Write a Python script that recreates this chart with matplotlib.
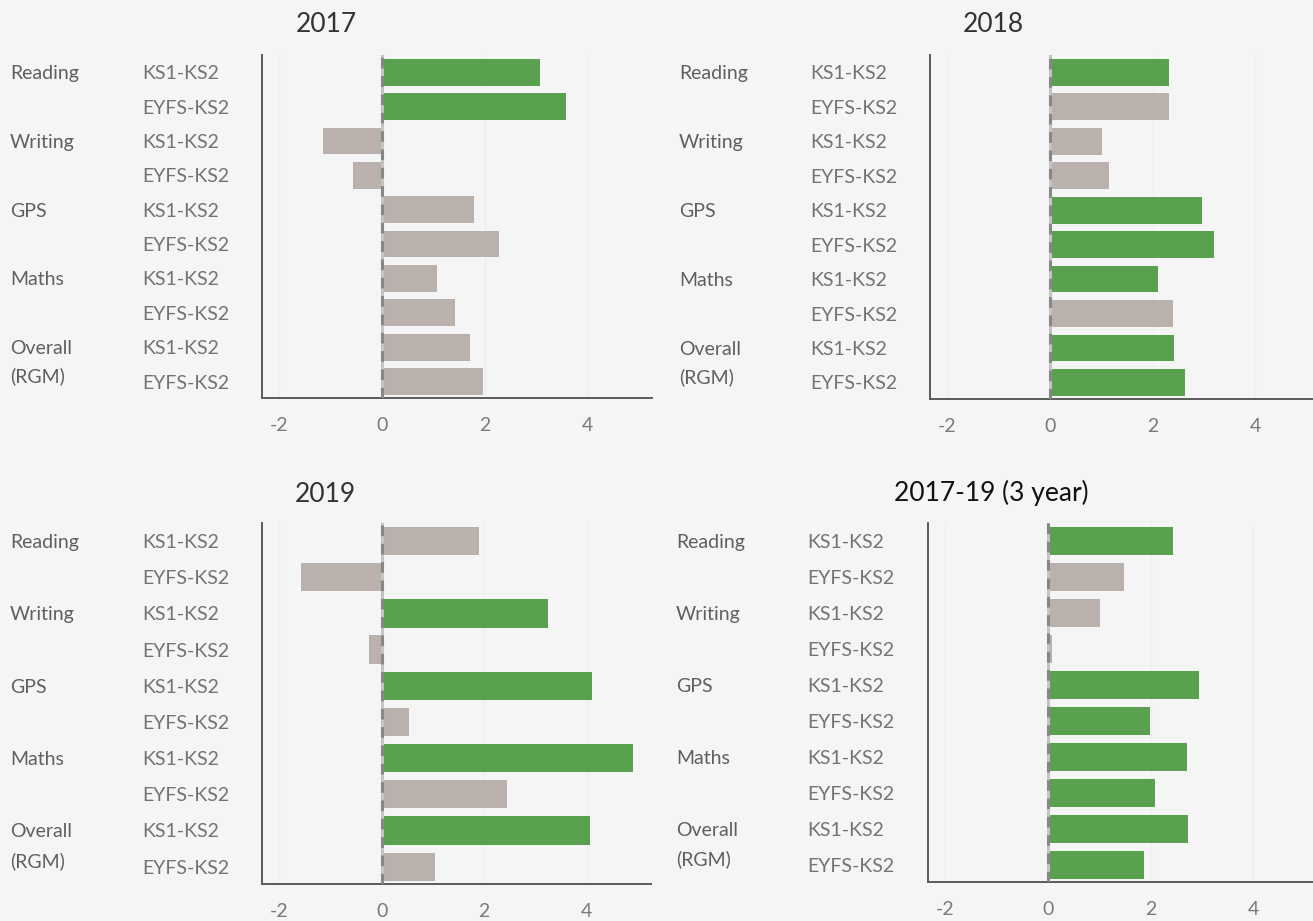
import matplotlib
matplotlib.use("Agg")
import matplotlib.pyplot as plt
from matplotlib.transforms import blended_transform_factory

# subjects and measures (rows top to bottom)
groups = ["Reading", "Writing", "GPS", "Maths", "Overall"]
measures = ["KS1-KS2", "EYFS-KS2"]

titles = ["2017", "2018", "2019", "2017-19 (3 year)"]

# progress scores, one per row (KS1-KS2 then EYFS-KS2 for each subject)
values_2017 = [3.08, 3.59, -1.15, -0.57, 1.79, 2.28, 1.07, 1.42, 1.72, 1.97]
values_2018 = [2.32, 2.32, 1.02, 1.15, 2.97, 3.20, 2.11, 2.40, 2.42, 2.62]
values_2019 = [1.90, -1.57, 3.24, -0.25, 4.10, 0.53, 4.90, 2.45, 4.06, 1.04]
values_3yr = [2.43, 1.48, 1.01, 0.08, 2.95, 1.98, 2.70, 2.08, 2.72, 1.86]

# 1 = significantly above national (green), 0 = not significant (grey)
sig_2017 = [1, 1, 0, 0, 0, 0, 0, 0, 0, 0]
sig_2018 = [1, 0, 0, 0, 1, 1, 1, 0, 1, 1]
sig_2019 = [0, 0, 1, 0, 1, 0, 1, 0, 1, 0]
sig_3yr = [1, 0, 0, 0, 1, 1, 1, 1, 1, 1]

xticks = [-2, 0, 2, 4]

GREEN = "#59a14f"
GREY = "#bab0ac"
BG = "#f5f5f5"

plt.rcParams["font.family"] = ["Lato", "DejaVu Sans"]

W, H = 1313, 921
fig = plt.figure(figsize=(W / 100, H / 100), dpi=100, facecolor=BG)

# axes boxes in pixels: left, top, right, bottom
boxes = [(262, 55, 652, 398), (930, 55, 1320, 399),
         (262, 523, 651, 884), (928, 523, 1318, 882)]
label_x = [(10, 142), (679, 810), (10, 142), (676, 807)]
title_pos = [(326, 24), (993, 25), (325, 494), (991, 493)]
title_col = ["#333333", "#333333", "#333333", "#111111"]

all_values = [values_2017, values_2018, values_2019, values_3yr]
all_sig = [sig_2017, sig_2018, sig_2019, sig_3yr]

rows = list(range(len(groups) * len(measures)))

for i in range(4):
    l, t, r, b = boxes[i]
    ax = fig.add_axes([l / W, 1 - b / H, (r - l) / W, (b - t) / H])
    ax.set_facecolor(BG)
    colors = [GREEN if s else GREY for s in all_sig[i]]
    ax.barh(rows, all_values[i], height=0.78, color=colors, zorder=2)
    ax.axvline(0, color="#c4c4c4", lw=2.2, zorder=3)
    ax.axvline(0, color="#555555", lw=2.2, alpha=0.55,
               ls=(0, (3.5, 2.5)), zorder=4)

    ax.set_xlim(-2.34, 5.26)
    ax.set_ylim(9.48, -0.5)
    ax.set_xticks(xticks)
    ax.set_xticklabels([str(v) for v in xticks])
    ax.set_yticks([])
    ax.tick_params(axis="x", length=0, pad=14, labelsize=14, labelcolor="#7a7a7a")
    ax.grid(axis="x", color="#eeeeee", lw=1)
    ax.set_axisbelow(True)
    for s in ["top", "right"]:
        ax.spines[s].set_visible(False)
    for s in ["left", "bottom"]:
        ax.spines[s].set_color("#5a5a5a")
        ax.spines[s].set_linewidth(1.4)

    trans = blended_transform_factory(fig.transFigure, ax.transData)
    gx, sx = label_x[i]
    for g, name in enumerate(groups):
        ax.text(gx / W, 2 * g, name, transform=trans, ha="left",
                va="center_baseline", fontsize=14, color="#5f5f5f")
        for m, meas in enumerate(measures):
            ax.text(sx / W, 2 * g + m, meas, transform=trans, ha="left",
                    va="center_baseline", fontsize=14, color="#737373")
    ax.text(gx / W, 8.8, "(RGM)", transform=trans, ha="left",
            va="center_baseline", fontsize=14, color="#5f5f5f")

    tx, ty = title_pos[i]
    fig.text(tx / W, 1 - ty / H, titles[i], ha="center", va="center",
             fontsize=19, color=title_col[i])

fig.savefig("out.png", dpi=100, facecolor=BG)
